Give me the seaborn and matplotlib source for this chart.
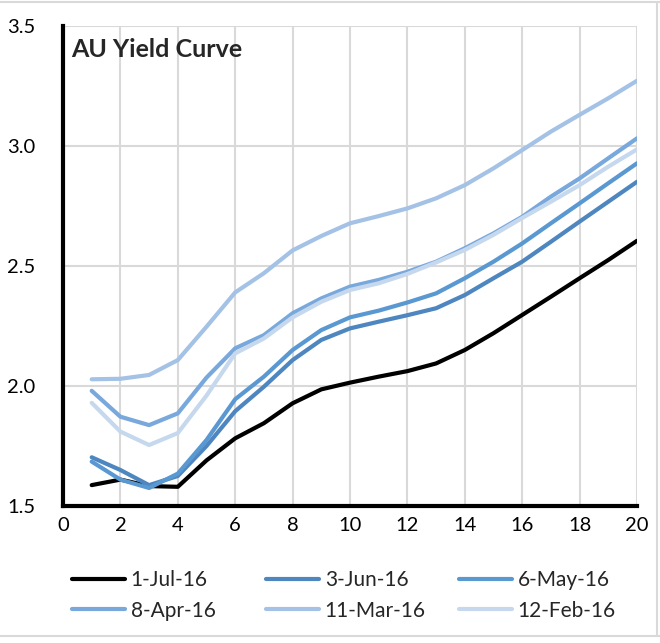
import numpy as np
import pandas as pd
import seaborn as sns
import matplotlib.pyplot as plt
from matplotlib.lines import Line2D

# Tenor in years
years = list(range(1, 21))

# Yields for each date
jul_01 = [1.587, 1.610, 1.583, 1.580, 1.690, 1.782, 1.845, 1.928, 1.986, 2.014,
          2.039, 2.062, 2.094, 2.150, 2.220, 2.296, 2.372, 2.449, 2.525, 2.605]
jun_03 = [1.703, 1.650, 1.587, 1.625, 1.750, 1.895, 1.997, 2.108, 2.192, 2.240,
          2.268, 2.295, 2.324, 2.379, 2.449, 2.518, 2.601, 2.685, 2.768, 2.851]
may_06 = [1.685, 1.610, 1.575, 1.635, 1.775, 1.945, 2.039, 2.150, 2.233, 2.286,
          2.314, 2.348, 2.386, 2.449, 2.518, 2.594, 2.678, 2.761, 2.845, 2.928]
apr_08 = [1.980, 1.872, 1.837, 1.886, 2.035, 2.157, 2.212, 2.303, 2.365, 2.414,
          2.442, 2.476, 2.518, 2.574, 2.636, 2.705, 2.789, 2.865, 2.949, 3.032]
mar_11 = [2.028, 2.030, 2.046, 2.108, 2.247, 2.390, 2.470, 2.565, 2.625, 2.678,
          2.708, 2.740, 2.782, 2.837, 2.907, 2.983, 3.060, 3.130, 3.199, 3.272]
feb_12 = [1.930, 1.810, 1.754, 1.804, 1.960, 2.136, 2.198, 2.286, 2.351, 2.400,
          2.428, 2.467, 2.515, 2.567, 2.630, 2.700, 2.768, 2.837, 2.914, 2.986]

dates = ["1-Jul-16", "3-Jun-16", "6-May-16", "8-Apr-16", "11-Mar-16", "12-Feb-16"]
series = [jul_01, jun_03, may_06, apr_08, mar_11, feb_12]
colors = ["#000000", "#4e86bf", "#5a98d2", "#78a8dc", "#a3c2e6", "#c6d8ee"]

# Long-form table for seaborn
df = pd.DataFrame({
    "Tenor": np.tile(years, len(dates)),
    "Yield": np.concatenate(series),
    "Date": np.repeat(dates, len(years)),
})

sns.set_style("white")
plt.rcParams["font.family"] = ["Lato", "DejaVu Sans"]

fig = plt.figure(figsize=(6.6, 6.43), dpi=100)
ax = fig.add_axes([63 / 660, 1 - 506 / 643, 574 / 660, 480 / 643])

sns.lineplot(data=df, x="Tenor", y="Yield", hue="Date", hue_order=dates,
             palette=dict(zip(dates, colors)), linewidth=3, ax=ax, legend=False)

# Axes styling
ax.set_xlim(0, 20)
ax.set_ylim(1.5, 3.5)
ax.set_xticks(range(0, 21, 2))
ax.set_yticks([1.5, 2.0, 2.5, 3.0, 3.5])
ax.set_yticklabels(["1.5", "2.0", "2.5", "3.0", "3.5"])
ax.set_xlabel("")
ax.set_ylabel("")
ax.grid(True, color="#d9d9d9", linewidth=1.5)
ax.set_axisbelow(True)
for side in ["top", "right"]:
    ax.spines[side].set_visible(False)
for side in ["left", "bottom"]:
    ax.spines[side].set_color("black")
    ax.spines[side].set_linewidth(3)
ax.tick_params(axis="both", length=0, labelsize=14.5, colors="black")
ax.tick_params(axis="y", pad=20)
ax.tick_params(axis="x", pad=8)

ax.text(0.014, 0.975, "AU Yield Curve", transform=ax.transAxes,
        fontsize=18, fontweight="bold", va="top", ha="left")

# Legend below the plot: three equal-width columns, filled row by row
handles = [Line2D([0], [0], color=c, linewidth=3) for c in colors]
col_x = [64, 258, 451]
for col in range(3):
    idx = [col, col + 3]
    fig.legend([handles[i] for i in idx], [dates[i] for i in idx],
               loc="upper left", bbox_to_anchor=(col_x[col] / 660, 1 - 562 / 643),
               ncol=1, frameon=False, fontsize=15, handlelength=2.55,
               handletextpad=0.25, labelspacing=0.5, borderaxespad=0)

# Thin grey frame around the chart area
fig.add_artist(Line2D([0, 1], [1 - 2 / 643, 1 - 2 / 643], color="#d9d9d9", linewidth=1.5))
fig.add_artist(Line2D([0, 1], [1 - 636 / 643, 1 - 636 / 643], color="#d9d9d9", linewidth=1.5))
fig.add_artist(Line2D([657 / 660, 657 / 660], [1 - 2 / 643, 1 - 636 / 643], color="#d9d9d9", linewidth=1.5))

fig.savefig("out.png", dpi=100)
